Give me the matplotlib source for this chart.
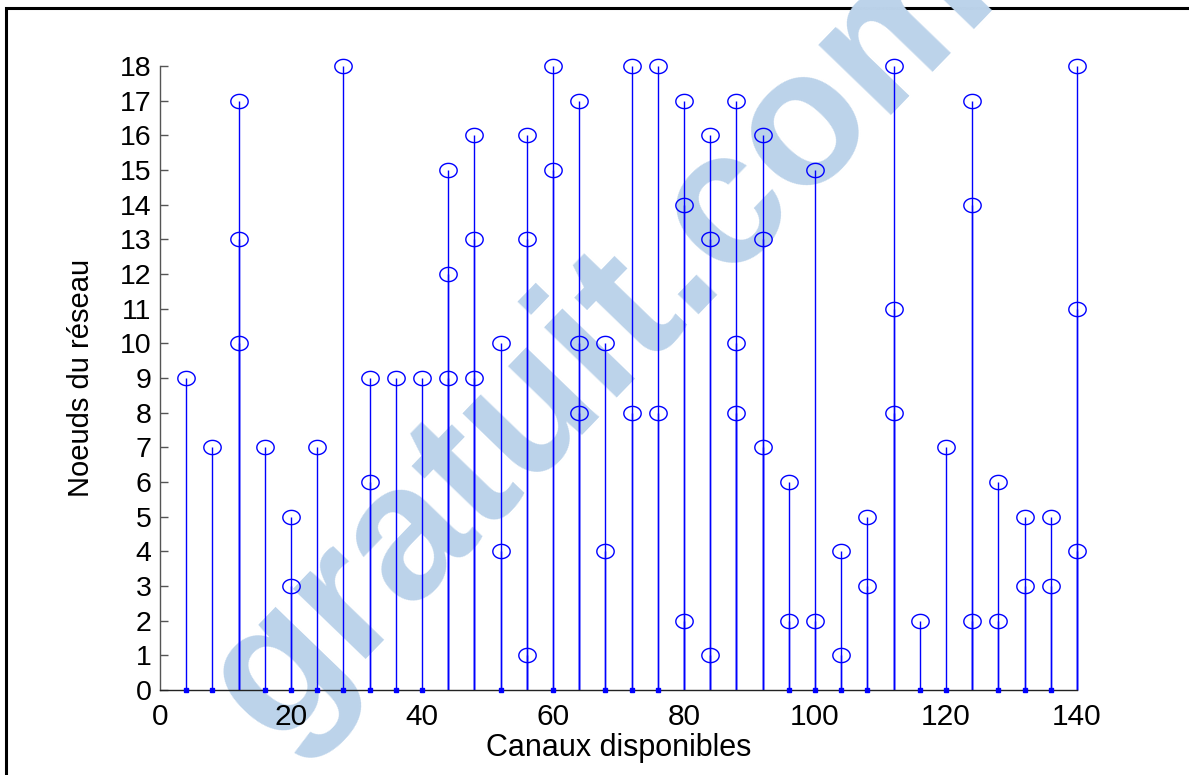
import matplotlib
matplotlib.use("Agg")
import matplotlib.pyplot as plt
import numpy as np
from matplotlib.path import Path
from matplotlib.patches import Rectangle

plt.rcParams['font.family'] = ['Liberation Sans', 'DejaVu Sans']

# Channel index and the nodes assigned to it (0 = no node)
channels = [4, 8, 12, 16, 20, 24, 28, 32, 36, 40, 44, 48, 52, 56, 60, 64, 68, 72,
            76, 80, 84, 88, 92, 96, 100, 104, 108, 112, 116, 120, 124, 128, 132, 136, 140]
node_first = [9, 7, 17, 7, 5, 7, 18, 9, 9, 9, 15, 16, 10, 16, 18, 17, 10, 18,
              18, 17, 16, 17, 16, 6, 15, 4, 5, 18, 2, 7, 17, 6, 5, 5, 18]
node_second = [0, 0, 13, 0, 3, 0, 0, 6, 0, 0, 12, 13, 4, 13, 15, 10, 4, 8,
               8, 14, 13, 10, 13, 2, 2, 1, 3, 11, 0, 0, 14, 2, 3, 3, 11]
node_third = [0, 0, 10, 0, 0, 0, 0, 0, 0, 0, 9, 9, 0, 1, 0, 8, 0, 0,
              0, 2, 1, 8, 7, 0, 0, 0, 0, 8, 0, 0, 2, 0, 0, 0, 4]

y_ticks = list(range(0, 19))
x_ticks = [0, 20, 40, 60, 80, 100, 120, 140]

W, H, DPI = 1189, 775, 100
fig = plt.figure(figsize=(W / DPI, H / DPI), dpi=DPI)
fig.patch.set_facecolor('white')

# outer frame
fig.patches.append(Rectangle((5.5 / W, -0.05), 1.2, 1.05 - 7.5 / H, transform=fig.transFigure,
                             fill=False, edgecolor='black', linewidth=2.2, zorder=-2))

# faint site watermark behind the plot
fig.text(0.505, 0.565, 'gratuit.com', transform=fig.transFigure, rotation=46,
         ha='center', va='center', fontsize=138, fontweight='bold',
         color='#bcd3ea', zorder=-1, family='Liberation Sans')

ax = fig.add_axes([160 / W, (H - 690) / H, 917 / W, 624 / H])
ax.set_zorder(1)
ax.patch.set_alpha(0)

# slightly wide ellipse marker
t = np.linspace(0, 2 * np.pi, 61)
ellipse = Path(np.column_stack([np.cos(t) * 1.0, np.sin(t) * 0.82]), closed=True)

blue = '#0000ff'
for series in (node_first, node_second, node_third):
    xs = [c for c, v in zip(channels, series) if v > 0]
    vs = [v for v in series if v > 0]
    ax.vlines(xs, 0, vs, colors=blue, linewidth=1.0, zorder=2, clip_on=False)
    ax.plot(xs, vs, linestyle='none', marker=ellipse, markersize=12.5,
            markerfacecolor='none', markeredgecolor=blue, markeredgewidth=1.0,
            zorder=3, clip_on=False)

# baseline markers for channels with fewer than three nodes
base_x = [c for c, v in zip(channels, node_third) if v == 0]
ax.plot(base_x, [0] * len(base_x), linestyle='none', marker='s', markersize=3.2,
        color=blue, zorder=4, clip_on=False)

ax.set_xlim(0, 140)
ax.set_ylim(0, 18)
ax.set_xticks(x_ticks)
ax.set_yticks(y_ticks)
for s in ('top', 'right'):
    ax.spines[s].set_visible(False)
ax.spines['left'].set_color('#555555')
ax.spines['bottom'].set_color('#222222')
ax.spines['left'].set_linewidth(1.0)
ax.spines['bottom'].set_linewidth(1.0)
ax.tick_params(axis='y', direction='in', length=6, width=1.0, color='#555555',
               labelsize=20.5, pad=6)
ax.tick_params(axis='x', direction='in', length=0, labelsize=21.5, pad=9.5)

ax.set_xlabel('Canaux disponibles', fontsize=22, labelpad=1)
ax.set_ylabel('Noeuds du réseau', fontsize=21, labelpad=18)

fig.savefig('out.png', dpi=DPI)
